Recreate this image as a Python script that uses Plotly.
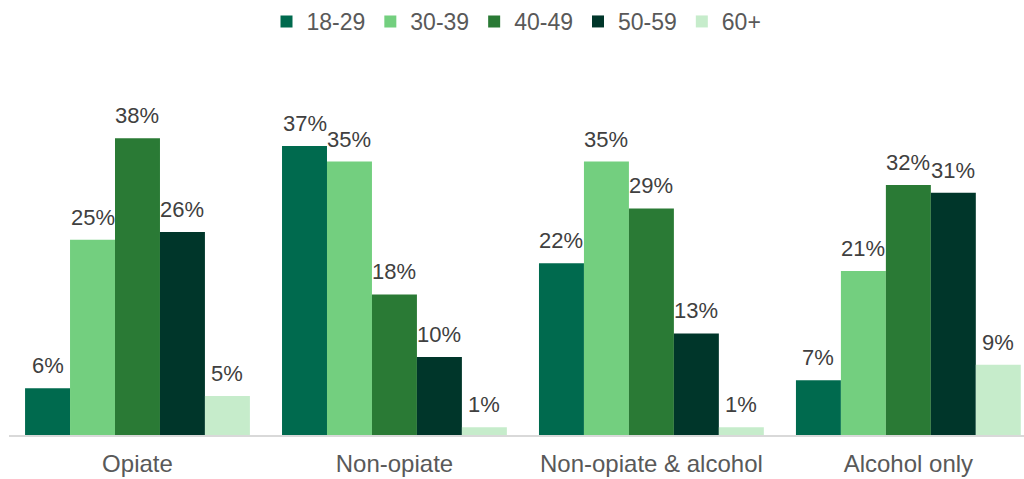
import plotly.graph_objects as go

categories = ["Opiate", "Non-opiate", "Non-opiate & alcohol", "Alcohol only"]
age_groups = ["18-29", "30-39", "40-49", "50-59", "60+"]
values_18_29 = [6, 37, 22, 7]
values_30_39 = [25, 35, 35, 21]
values_40_49 = [38, 18, 29, 32]
values_50_59 = [26, 10, 13, 31]
values_60_plus = [5, 1, 1, 9]
colors = ["#006A4E", "#73CF7F", "#2A7A35", "#00362A", "#C6ECCB"]

series = [values_18_29, values_30_39, values_40_49, values_50_59, values_60_plus]

BARGAP = 0.125
n_series = len(series)
bar_w = (1 - BARGAP) / n_series

fig = go.Figure()
for j, (name, vals, col) in enumerate(zip(age_groups, series, colors)):
    fig.add_trace(go.Bar(
        x=categories, y=vals, name=name,
        marker=dict(color=col, line=dict(width=0)),
    ))
    # value labels sitting above each bar
    for i, v in enumerate(vals):
        fig.add_annotation(
            x=i + (j - (n_series - 1) / 2) * bar_w, y=v,
            xref="x", yref="y", text=f"{v}%", showarrow=False,
            yanchor="bottom", yshift=8,
            font=dict(size=22, color="#404040"),
        )

fig.update_layout(
    width=1024, height=479,
    barmode="group", bargap=BARGAP, bargroupgap=0,
    paper_bgcolor="white", plot_bgcolor="white",
    font=dict(family="Liberation Sans, Arial, sans-serif", color="#595959"),
    margin=dict(l=9, r=0, t=59, b=44),
    legend=dict(orientation="h", x=0.5, xanchor="center", y=1.104, yanchor="middle",
                yref="paper", font=dict(size=23, color="#595959"),
                itemwidth=30, traceorder="normal", tracegroupgap=0),
    xaxis=dict(range=[-0.5, 3.45], showline=True, linecolor="#D9D9D9", linewidth=1.5,
               ticks="", ticklabelstandoff=6,
               tickfont=dict(size=24, color="#595959"), showgrid=False),
    yaxis=dict(range=[0, 48], visible=False, showgrid=False),
)

fig.write_html("out.html")
